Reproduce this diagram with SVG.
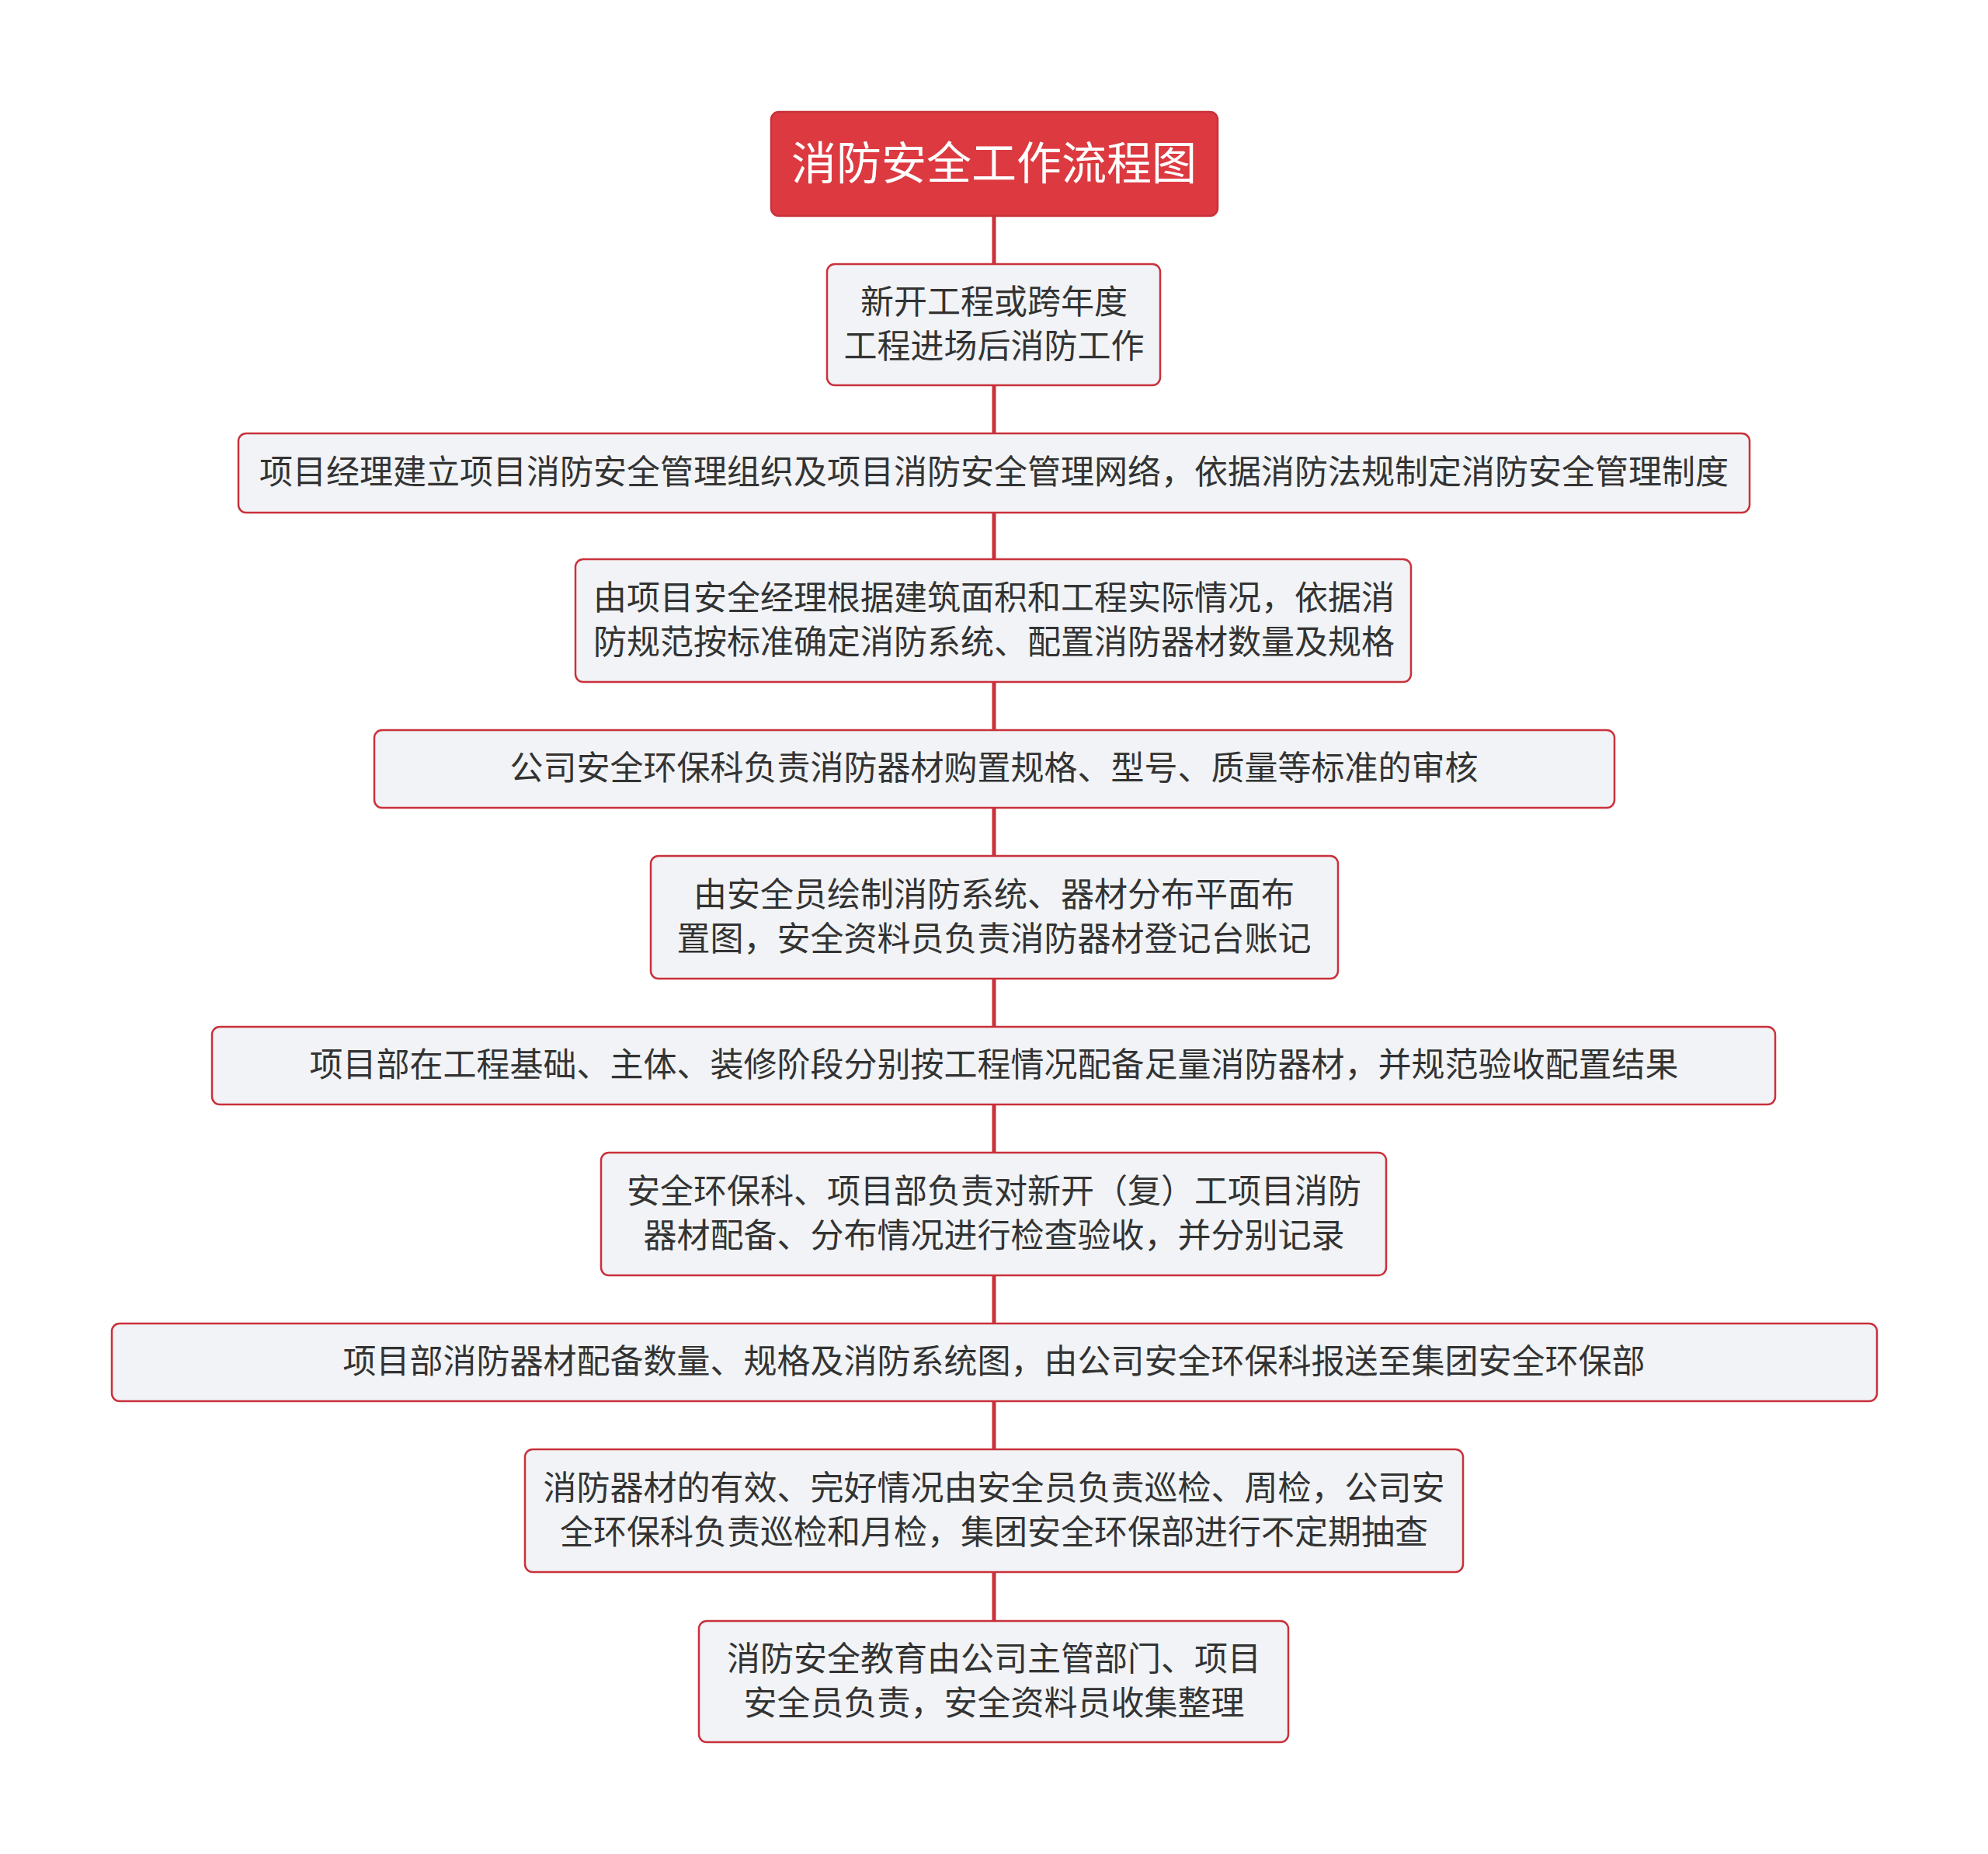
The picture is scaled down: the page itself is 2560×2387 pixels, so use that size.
<svg xmlns="http://www.w3.org/2000/svg" width="2560" height="2387" viewBox="0 0 2560 2387">
<style>
.n{fill:#f1f3f6;stroke:#c9313b;stroke-width:2.5}
.t{font-family:"Noto Sans CJK SC","Noto Sans",sans-serif;font-size:43px;fill:#333;text-anchor:middle}
.c{stroke:#c9313b;stroke-width:5;fill:none}
</style>
<rect width="2560" height="2387" fill="#fff"/>
<g id="connectors">
<line class="c" x1="1280" y1="278" x2="1280" y2="2087"/>
</g>
<g id="title"><rect x="993" y="144" width="575" height="134" rx="10" fill="#dc3a40" stroke="#c9313b" stroke-width="2.5"/><text x="1280" y="231" class="t" style="font-size:58px;fill:#fff">消防安全工作流程图</text></g>
<g id="n1"><rect class="n" x="1065" y="340" width="429" height="156" rx="10"/><text class="t" x="1280" y="404">新开工程或跨年度</text><text class="t" x="1280" y="461">工程进场后消防工作</text></g>
<g id="n2"><rect class="n" x="307" y="558" width="1946" height="102" rx="10"/><text class="t" x="1280" y="623">项目经理建立项目消防安全管理组织及项目消防安全管理网络，依据消防法规制定消防安全管理制度</text></g>
<g id="n3"><rect class="n" x="741" y="720" width="1076" height="158" rx="10"/><text class="t" x="1280" y="785">由项目安全经理根据建筑面积和工程实际情况，依据消</text><text class="t" x="1280" y="842">防规范按标准确定消防系统、配置消防器材数量及规格</text></g>
<g id="n4"><rect class="n" x="482" y="940" width="1597" height="100" rx="10"/><text class="t" x="1280" y="1004">公司安全环保科负责消防器材购置规格、型号、质量等标准的审核</text></g>
<g id="n5"><rect class="n" x="838" y="1102" width="885" height="158" rx="10"/><text class="t" x="1280" y="1167">由安全员绘制消防系统、器材分布平面布</text><text class="t" x="1280" y="1224">置图，安全资料员负责消防器材登记台账记</text></g>
<g id="n6"><rect class="n" x="273" y="1322" width="2013" height="100" rx="10"/><text class="t" x="1280" y="1386">项目部在工程基础、主体、装修阶段分别按工程情况配备足量消防器材，并规范验收配置结果</text></g>
<g id="n7"><rect class="n" x="774" y="1484" width="1011" height="158" rx="10"/><text class="t" x="1280" y="1549">安全环保科、项目部负责对新开（复）工项目消防</text><text class="t" x="1280" y="1606">器材配备、分布情况进行检查验收，并分别记录</text></g>
<g id="n8"><rect class="n" x="144" y="1704" width="2273" height="100" rx="10"/><text class="t" x="1280" y="1768">项目部消防器材配备数量、规格及消防系统图，由公司安全环保科报送至集团安全环保部</text></g>
<g id="n9"><rect class="n" x="676" y="1866" width="1208" height="158" rx="10"/><text class="t" x="1280" y="1931">消防器材的有效、完好情况由安全员负责巡检、周检，公司安</text><text class="t" x="1280" y="1988">全环保科负责巡检和月检，集团安全环保部进行不定期抽查</text></g>
<g id="n10"><rect class="n" x="900" y="2087" width="759" height="156" rx="10"/><text class="t" x="1280" y="2151">消防安全教育由公司主管部门、项目</text><text class="t" x="1280" y="2208">安全员负责，安全资料员收集整理</text></g>
</svg>
